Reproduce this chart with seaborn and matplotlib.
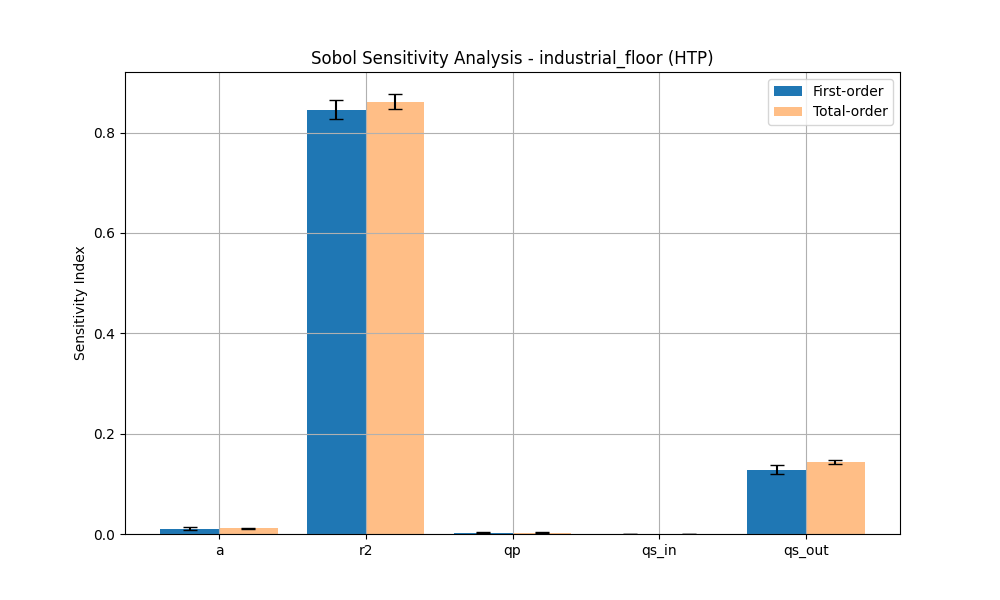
import matplotlib
matplotlib.use("Agg")
import matplotlib.pyplot as plt
import seaborn as sns
import numpy as np
import pandas as pd

params = ["a", "r2", "qp", "qs_in", "qs_out"]
first_order = [0.010, 0.846, 0.002, 0.0003, 0.128]
first_conf = [0.003, 0.019, 0.001, 0.0005, 0.009]
total_order = [0.011, 0.862, 0.002, 0.0004, 0.144]
total_conf = [0.001, 0.015, 0.001, 0.0003, 0.004]
series_names = ["First-order", "Total-order"]

df = pd.DataFrame({
    "param": params * 2,
    "index": first_order + total_order,
    "conf": first_conf + total_conf,
    "kind": [series_names[0]] * len(params) + [series_names[1]] * len(params),
})

fig, ax = plt.subplots(figsize=(10, 6), dpi=100)
sns.barplot(data=df, x="param", y="index", hue="kind", order=params,
            hue_order=series_names, palette=["#1f77b4", "#ffbe86"],
            saturation=1, errorbar=None, ax=ax)

# error bars at bar centers
for container, name in zip(ax.containers, series_names):
    sub = df[df["kind"] == name].set_index("param").loc[params]
    xs = [p.get_x() + p.get_width() / 2 for p in container.patches]
    ax.errorbar(xs, sub["index"].values, yerr=sub["conf"].values, fmt="none",
                ecolor="black", capsize=5, elinewidth=1.5)

ax.set_autoscalex_on(True)
ax.margins(x=0.05)
ax.relim()
ax.autoscale_view()
ax.set_ylim(bottom=0)
ax.grid(True)
ax.set_axisbelow("line")
ax.set_xlabel("")
ax.set_ylabel("Sensitivity Index")
ax.set_title("Sobol Sensitivity Analysis - industrial_floor (HTP)")
h, l = ax.get_legend_handles_labels()
ax.legend(h[:2], l[:2], loc="upper right")
fig.savefig("out.png", dpi=100)
